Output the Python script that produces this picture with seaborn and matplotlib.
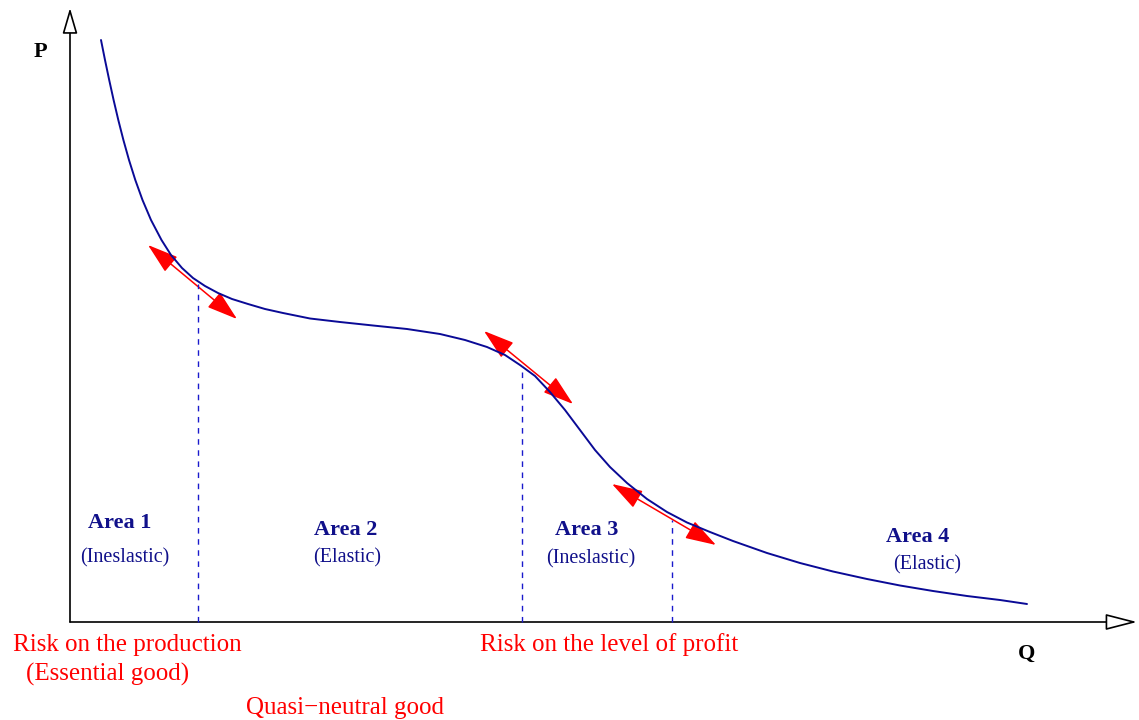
import matplotlib
matplotlib.use("Agg")
import matplotlib.pyplot as plt
import seaborn as sns
import pandas as pd
from matplotlib.patches import FancyArrowPatch

# --- data (pixel-like units, y grows downward) ---
curve_q = [101, 105, 109.2, 113.6, 118.3, 123.4, 129, 135.3, 142.5, 151, 161.5,
           171, 182, 193, 205, 218, 232, 248, 265, 283, 310, 340, 373, 407, 440,
           465, 487, 505, 520, 535, 550, 565, 580, 595, 610, 627, 647, 667, 687,
           710, 733, 767, 800, 833, 867, 900, 933, 967, 1000, 1027]
curve_p = [40, 60, 80, 100, 120, 140, 160, 180, 200, 220, 240,
           255, 268, 278, 286, 293, 299, 304, 309, 313, 318.5, 322, 325.5, 329, 334,
           340, 347, 355, 365, 376, 392, 410, 430, 450, 467, 483, 499, 512, 522.5,
           532, 541, 553, 563, 571.5, 579, 585.5, 591, 596, 600, 604]

dash_q = [198, 522, 672]
dash_top = [284, 366, 520]
axis_base = 622

# double-headed tangent arrows: (q0, p0, q1, p1)
arrows_q0 = [148, 484, 612]
arrows_p0 = [245, 331, 484]
arrows_q1 = [237, 573, 716]
arrows_p1 = [319, 404, 545]

area_names = ["Area 1", "Area 2", "Area 3", "Area 4"]
area_kinds = ["(Ineslastic)", "(Elastic)", "(Ineslastic)", "(Elastic)"]
area_name_xy = [(120, 523), (346, 530), (587, 530), (918, 537)]
area_kind_xy = [(125, 558), (347, 558), (591, 559), (927, 565)]

risk_texts = ["Risk on the production", "(Essential good)",
              "Quasi\u2212neutral good", "Risk on the level of profit"]
risk_xy = [(127, 645), (108, 674), (345, 708), (609, 645)]

CURVE = "#0a0a96"
NAVY = "#10108a"
RED = "#ff0000"

sns.set_theme(style="white")
plt.rcParams["font.family"] = ["Liberation Serif", "DejaVu Serif"]

fig = plt.figure(figsize=(11.39, 7.2), dpi=100)
ax = fig.add_axes([0, 0, 1, 1])
ax.set_xlim(0, 1139)
ax.set_ylim(720, 0)
ax.axis("off")

# axes with open arrow heads
ax.add_patch(FancyArrowPatch((70, axis_base), (70, 8),
                             arrowstyle="-|>,head_length=1.13,head_width=0.33",
                             mutation_scale=14, lw=1.2, ec="black", fc="white",
                             shrinkA=0, shrinkB=0))
ax.add_patch(FancyArrowPatch((70, axis_base), (1137, axis_base),
                             arrowstyle="-|>,head_length=1.4,head_width=0.36",
                             mutation_scale=14, lw=1.2, ec="black", fc="white",
                             shrinkA=0, shrinkB=0))

# demand curve
df = pd.DataFrame({"Q": curve_q, "P": curve_p})
sns.lineplot(data=df, x="Q", y="P", sort=False, color=CURVE, lw=1.4, ax=ax)

# dashed drop lines
for q, top in zip(dash_q, dash_top):
    ax.plot([q, q], [axis_base, top], color="#1a1acc", lw=1.0, ls=(0, (4, 4)))

# red tangent arrows
for q0, p0, q1, p1 in zip(arrows_q0, arrows_p0, arrows_q1, arrows_p1):
    ax.add_patch(FancyArrowPatch((q0, p0), (q1, p1),
                                 arrowstyle="<|-|>,head_length=1.2,head_width=0.38",
                                 mutation_scale=16, lw=1.1, color=RED,
                                 shrinkA=0, shrinkB=0))

# labels
ax.text(40, 52, "P", fontsize=16, fontweight="bold", color="black", ha="center", va="center")
ax.text(1027, 654, "Q", fontsize=16, fontweight="bold", color="black", ha="center", va="center")

for name, kind, (nx, ny), (kx, ky) in zip(area_names, area_kinds, area_name_xy, area_kind_xy):
    ax.text(nx, ny, name, fontsize=16, fontweight="bold", color=NAVY, ha="center", va="center")
    ax.text(kx, ky, kind, fontsize=14.5, color=NAVY, ha="center", va="center")

for txt, (tx, ty) in zip(risk_texts, risk_xy):
    ax.text(tx, ty, txt, fontsize=18, color=RED, ha="center", va="center")

fig.savefig("out.png", dpi=100)
